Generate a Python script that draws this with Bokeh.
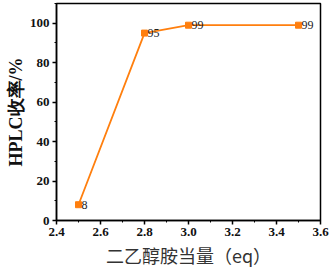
from bokeh.plotting import figure
from bokeh.models import Range1d, SingleIntervalTicker, PrintfTickFormatter, ColumnDataSource
from bokeh.core.properties import value
from bokeh.embed import file_html
from bokeh.resources import INLINE

eq = [2.5, 2.8, 3.0, 3.5]
yield_pct = [8, 95, 99, 99]
labels = ["8", "95", "99", "99"]

src = ColumnDataSource(dict(x=eq, y=yield_pct, t=labels))

SERIF = "Liberation Serif"

p = figure(width=330, height=270, output_backend="svg", toolbar_location=None,
           x_range=Range1d(2.4, 3.6), y_range=Range1d(0, 110),
           min_border_left=56, min_border_right=10, min_border_top=3, min_border_bottom=50)
p.grid.visible = False
p.outline_line_color = "black"
p.outline_line_width = 1.5
p.background_fill_color = "white"

orange = "#FF7F0E"
p.line("x", "y", source=src, line_color=orange, line_width=1.8)
p.scatter("x", "y", source=src, marker="square", size=6, fill_color=orange, line_color=orange)
p.text("x", "y", text="t", source=src, x_offset=3, text_baseline="middle",
       text_font=value(SERIF), text_font_size="12px", text_color="#222222")

p.xaxis.ticker = SingleIntervalTicker(interval=0.2, num_minor_ticks=2)
p.yaxis.ticker = SingleIntervalTicker(interval=20, num_minor_ticks=2)
p.xaxis.formatter = PrintfTickFormatter(format="%.1f")
p.yaxis.formatter = PrintfTickFormatter(format="%d")

for ax in (p.xaxis, p.yaxis):
    ax.axis_line_width = 1.5
    ax.axis_line_color = "black"
    ax.major_tick_in = 0
    ax.major_tick_out = 4
    ax.minor_tick_in = 0
    ax.minor_tick_out = 2
    ax.major_tick_line_width = 1.5
    ax.minor_tick_line_width = 1
    ax.major_label_text_font = SERIF
    ax.major_label_text_font_style = "bold"
    ax.major_label_text_font_size = "13px"
    ax.major_label_text_color = "#111111"
    ax.major_label_standoff = 3

p.xaxis.axis_label = "二乙醇胺当量（eq）"
p.xaxis.axis_label_text_font = "Noto Sans CJK SC"
p.xaxis.axis_label_text_font_style = "normal"
p.xaxis.axis_label_text_font_size = "18px"
p.xaxis.axis_label_text_color = "#333333"
p.xaxis.axis_label_standoff = 3

p.yaxis.axis_label = "HPLC收率/%"
p.yaxis.axis_label_text_font = SERIF
p.yaxis.axis_label_text_font_style = "bold"
p.yaxis.axis_label_text_font_size = "18px"
p.yaxis.axis_label_text_color = "#111111"
p.yaxis.axis_label_standoff = 1

html = file_html(p, INLINE)
html = html.replace("<head>", "<head><style>html,body{margin:0;padding:0;}</style>", 1)
open("out.html", "w").write(html)
